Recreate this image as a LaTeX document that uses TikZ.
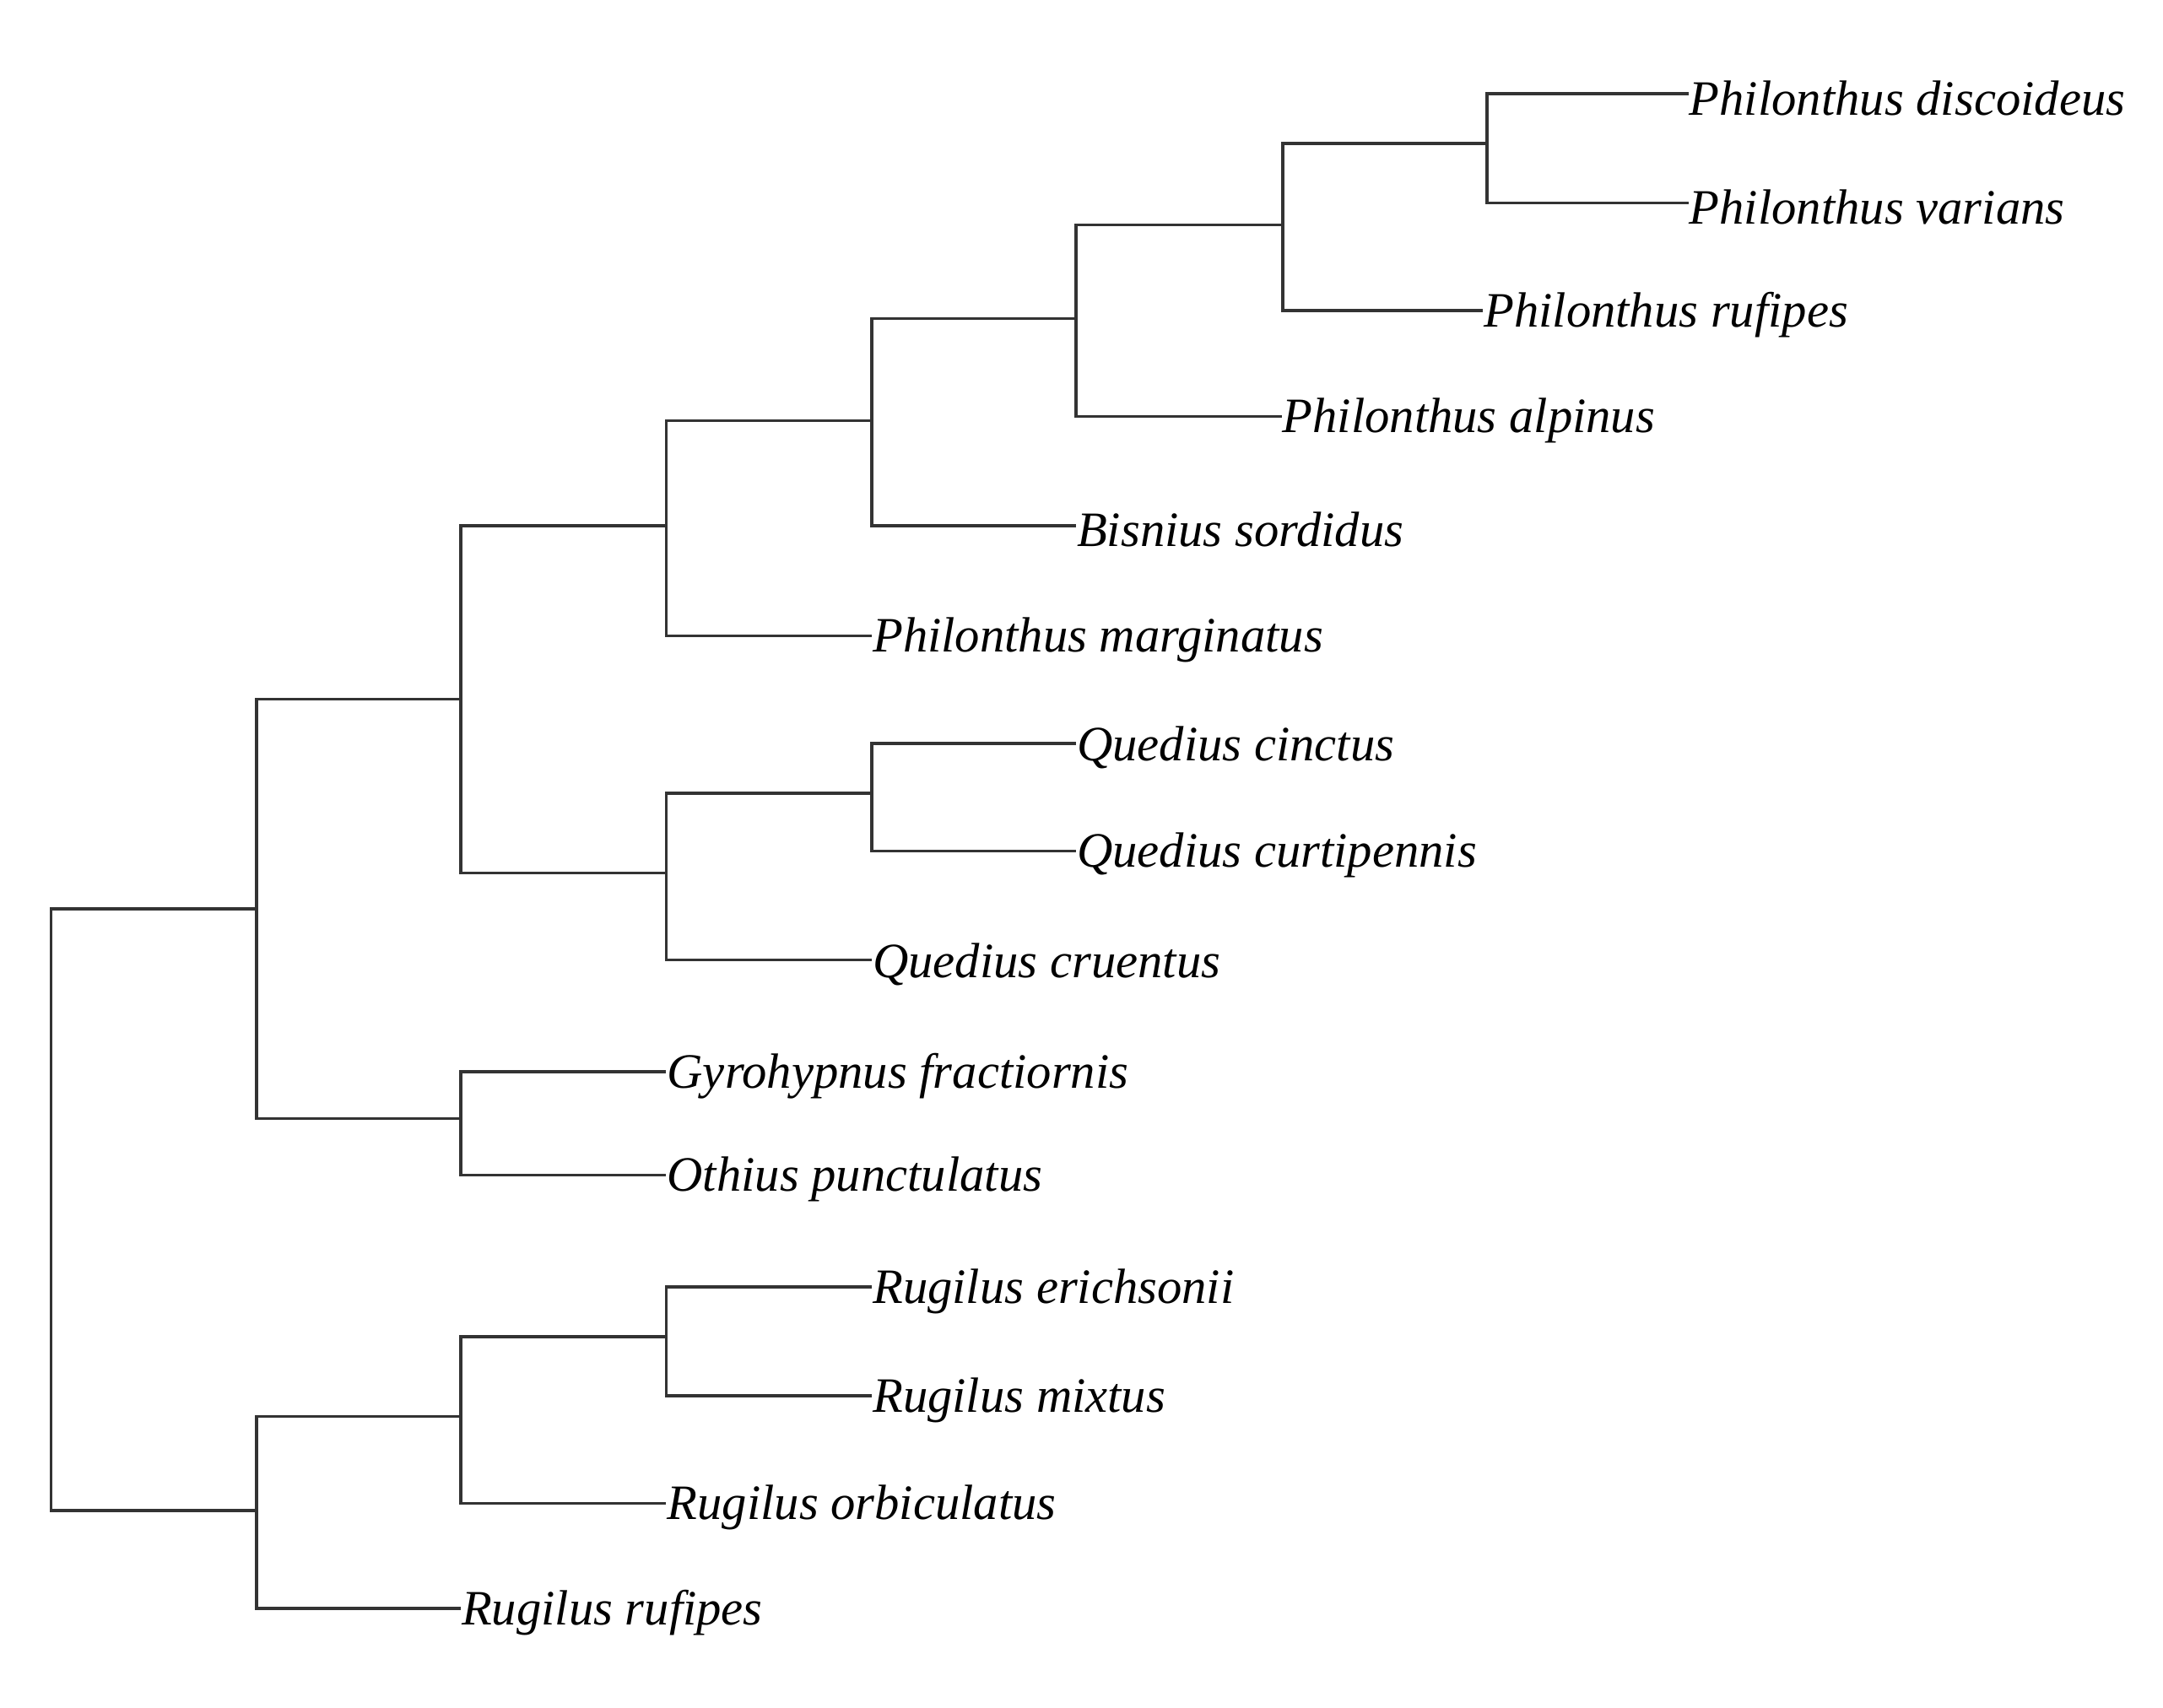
\documentclass[tikz,border=0pt]{standalone}
\usepackage{fontspec}
\setmainfont{Liberation Serif}
\begin{document}
\begin{tikzpicture}[x=0.01cm,y=-0.01cm,
  taxon/.style={anchor=west,inner sep=0pt,yshift=-0.03cm,font=\fontsize{10.2}{12}\selectfont\itshape},
  branch/.style={draw=black!80,line width=0.6pt}]
\useasboundingbox (0,0) rectangle (1568,1238);
% leaves
\node[taxon] (pdis) at (1224,68) {Philonthus discoideus};
\node[taxon] (pvar) at (1224,147) {Philonthus varians};
\node[taxon] (pruf) at (1075,225) {Philonthus rufipes};
\node[taxon] (palp) at (929,302) {Philonthus alpinus};
\node[taxon] (bsor) at (780,381) {Bisnius sordidus};
\node[taxon] (pmar) at (632,461) {Philonthus marginatus};
\node[taxon] (qcin) at (780,539) {Quedius cinctus};
\node[taxon] (qcur) at (780,617) {Quedius curtipennis};
\node[taxon] (qcru) at (632,696) {Quedius cruentus};
\node[taxon] (gfra) at (483,777) {Gyrohypnus fractiornis};
\node[taxon] (opun) at (483,852) {Othius punctulatus};
\node[taxon] (reri) at (632,933) {Rugilus erichsonii};
\node[taxon] (rmix) at (632,1012) {Rugilus mixtus};
\node[taxon] (rorb) at (483,1090) {Rugilus orbiculatus};
\node[taxon] (rruf) at (334,1166) {Rugilus rufipes};
% internal nodes
\coordinate (n1) at (1078,107);
\coordinate (n2) at (930,166);
\coordinate (n3) at (780,234);
\coordinate (n4) at (632,308);
\coordinate (n5) at (483,384);
\coordinate (q1) at (632,578);
\coordinate (q2) at (483,636);
\coordinate (a) at (334,510);
\coordinate (g) at (334,814);
\coordinate (b) at (186,662);
\coordinate (r1) at (483,972);
\coordinate (r2) at (334,1030);
\coordinate (r3) at (186,1098);
\coordinate (root) at (37,880);
% branches
\foreach \p/\c in {n1/pdis,n1/pvar,n2/n1,n2/pruf,n3/n2,n3/palp,
  n4/n3,n4/bsor,n5/n4,n5/pmar,q1/qcin,q1/qcur,q2/q1,q2/qcru,
  a/n5,a/q2,g/gfra,g/opun,b/a,b/g,r1/reri,r1/rmix,r2/r1,
  r2/rorb,r3/r2,r3/rruf,root/b,root/r3}
  \draw[branch] (\p) |- ([yshift=0.03cm]\c.west);
\end{tikzpicture}
\end{document}
